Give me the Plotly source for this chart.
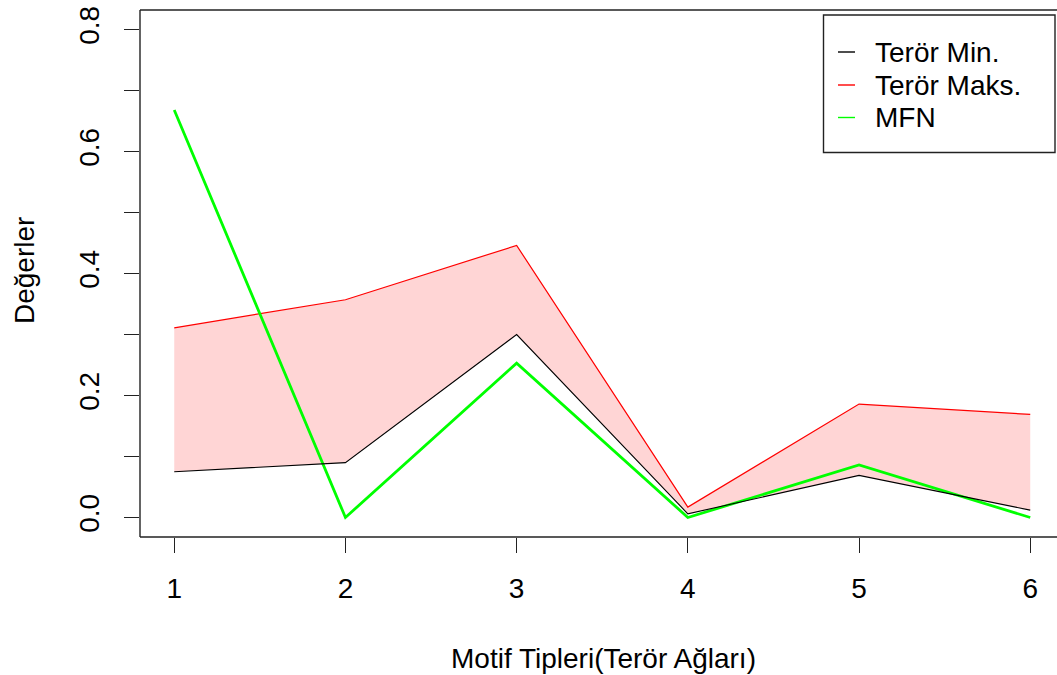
import plotly.graph_objects as go

# ---- data ----
motif_types = [1, 2, 3, 4, 5, 6]
teror_min = [0.075, 0.090, 0.300, 0.006, 0.069, 0.012]
teror_max = [0.311, 0.357, 0.446, 0.017, 0.186, 0.169]
mfn = [0.668, 0.0, 0.253, 0.0, 0.086, 0.0]
y_ticks = [0.0, 0.1, 0.2, 0.3, 0.4, 0.5, 0.6, 0.7, 0.8]
y_tick_labels = ["0.0", "", "0.2", "", "0.4", "", "0.6", "", "0.8"]
series_names = ["Terör Min.", "Terör Maks.", "MFN"]
series_colors = ["#000000", "#FF0000", "#00FF00"]

W, H = 1057, 675
L, R, T, B = 140, 0, 10, 138
PW, PH = W - L - R, H - T - B
FONT = "Liberation Sans, Arial, sans-serif"
FS = 28
AXC = "#222222"


def px(x):
    return (x - L) / PW


def py(y):
    return (H - B - y) / PH


fig = go.Figure()

# shaded band between min and max
fig.add_trace(go.Scatter(
    x=motif_types + motif_types[::-1],
    y=teror_max + teror_min[::-1],
    fill="toself", fillcolor="rgba(255,0,0,0.165)",
    line=dict(width=0), mode="lines", hoverinfo="skip", showlegend=False))

fig.add_trace(go.Scatter(x=motif_types, y=teror_max, mode="lines",
                         line=dict(color=series_colors[1], width=1.2),
                         name=series_names[1], showlegend=False))
fig.add_trace(go.Scatter(x=motif_types, y=mfn, mode="lines",
                         line=dict(color=series_colors[2], width=2.8),
                         name=series_names[2], showlegend=False))
fig.add_trace(go.Scatter(x=motif_types, y=teror_min, mode="lines",
                         line=dict(color=series_colors[0], width=1.1),
                         name=series_names[0], showlegend=False))

shapes = []
# plot box (right edge lies outside the page)
for x0, y0, x1, y1 in [(0, 0, 1.02, 0), (0, 1, 1.02, 1), (0, 0, 0, 1)]:
    shapes.append(dict(type="line", xref="paper", yref="paper",
                       x0=x0, y0=y0, x1=x1, y1=y1,
                       line=dict(color=AXC, width=1.4)))

# legend box
shapes.append(dict(type="rect", xref="paper", yref="paper",
                   x0=px(823.5), x1=px(1055), y0=py(15), y1=py(152.5),
                   line=dict(color=AXC, width=1.4), fillcolor="white"))
annotations = []
row_y = [52, 85, 117.5]
for name, col, ry in zip(series_names, series_colors, row_y):
    shapes.append(dict(type="line", xref="paper", yref="paper",
                       x0=px(838), x1=px(855), y0=py(ry), y1=py(ry),
                       line=dict(color=col, width=1.4)))
    annotations.append(dict(text=name, xref="paper", yref="paper",
                            x=px(873), y=py(ry), xanchor="left", yanchor="middle",
                            showarrow=False, font=dict(family=FONT, size=FS, color="#000")))

# axis titles
annotations.append(dict(text="Motif Tipleri(Terör Ağları)", xref="paper", yref="paper",
                        x=px(603), y=py(658), xanchor="center", yanchor="middle",
                        showarrow=False, font=dict(family=FONT, size=FS, color="#000")))
annotations.append(dict(text="Değerler", xref="paper", yref="paper",
                        x=px(24), y=py(270), xanchor="center", yanchor="middle",
                        textangle=-90, showarrow=False,
                        font=dict(family=FONT, size=FS, color="#000")))

fig.update_layout(
    width=W, height=H,
    margin=dict(l=L, r=R, t=T, b=B, pad=0),
    plot_bgcolor="white", paper_bgcolor="white",
    showlegend=False,
    shapes=shapes, annotations=annotations,
    font=dict(family=FONT, size=FS, color="#000"),
    xaxis=dict(range=[0.8, 0.8 + PW / 171.2], tickvals=motif_types,
               ticks="outside", ticklen=15, tickwidth=1.4, tickcolor=AXC,
               showgrid=False, zeroline=False, showline=False,
               ticklabelstandoff=11,
               tickfont=dict(family=FONT, size=FS, color="#000")),
    yaxis=dict(range=[-0.032, 0.832], tickvals=y_ticks, ticktext=y_tick_labels,
               ticks="outside", ticklen=15, tickwidth=1.4, tickcolor=AXC,
               tickangle=-90, showgrid=False, zeroline=False, showline=False,
               ticklabelstandoff=14,
               tickfont=dict(family=FONT, size=FS, color="#000")),
)

fig.write_html(
    "out.html",
    config={"displayModeBar": False},
    post_script="document.body.style.margin='0';document.body.style.overflow='hidden';",
)
